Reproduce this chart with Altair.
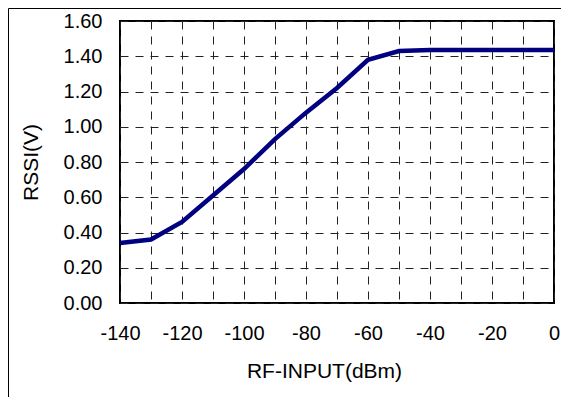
import altair as alt
import pandas as pd

rf_input = [-140, -130, -120, -110, -100, -90, -80, -70, -60, -50, -40, -30, -20, -10, 0]
rssi = [0.34, 0.36, 0.46, 0.61, 0.76, 0.93, 1.08, 1.22, 1.38, 1.43, 1.435, 1.435, 1.435, 1.435, 1.435]
x_grid = [-140, -130, -120, -110, -100, -90, -80, -70, -60, -50, -40, -30, -20, -10, 0]
y_grid = [0.0, 0.2, 0.4, 0.6, 0.8, 1.0, 1.2, 1.4, 1.6]

df = pd.DataFrame({"rf": rf_input, "rssi": rssi})

FONT = "Liberation Sans"

x_axis = alt.Axis(
    values=x_grid,
    labelExpr="datum.value % 20 == 0 ? '' + datum.value : ''",
    grid=True, gridDash=[8, 7], gridColor="#222", gridWidth=1,
    ticks=False, tickSize=0, domain=False,
    labelFont=FONT, labelFontSize=20, labelColor="#000",
    labelBaseline="alphabetic", labelPadding=36, labelFlush=False,
    title="RF-INPUT(dBm)", titleFont=FONT, titleFontSize=21, titleFontWeight="normal",
    titleColor="#000", titleBaseline="alphabetic", titleY=74, titleX=204,
)
y_axis = alt.Axis(
    values=y_grid, format=".2f",
    grid=True, gridDash=[8, 7], gridColor="#222", gridWidth=1,
    ticks=False, tickSize=0, domain=False,
    labelFont=FONT, labelFontSize=20, labelColor="#000", labelPadding=18,
    labelFlush=False,
    title="RSSI(V)", titleFont=FONT, titleFontSize=21, titleFontWeight="normal",
    titleColor="#000", titleBaseline="alphabetic", titleX=-83, titleY=141,
)

line = alt.Chart(df).mark_line(color="#000080", strokeWidth=4.5).encode(
    x=alt.X("rf:Q", scale=alt.Scale(domain=[-140, 0], nice=False, zero=False), axis=x_axis),
    y=alt.Y("rssi:Q", scale=alt.Scale(domain=[0, 1.6], nice=False), axis=y_axis),
)

frame_src = alt.Data(values=[{"k": 0}])
top_rule = alt.Chart(frame_src).mark_rule(color="#000", strokeWidth=1).encode(
    x=alt.value(-111.5), x2=alt.value(460), y=alt.value(-12.5)
)
left_rule = alt.Chart(frame_src).mark_rule(color="#000", strokeWidth=1).encode(
    x=alt.value(-111.5), y=alt.value(-12.5), y2=alt.value(400)
)

chart = alt.layer(line, top_rule, left_rule).properties(
    width=434, height=282,
    autosize=alt.AutoSizeParams(type="none"),
    padding={"left": 112, "top": 13, "right": 7, "bottom": 94},
    background="#ffffff",
).configure_view(stroke="#000", strokeWidth=2)

chart.save("out.html", embed_options={"renderer": "svg", "actions": False})
